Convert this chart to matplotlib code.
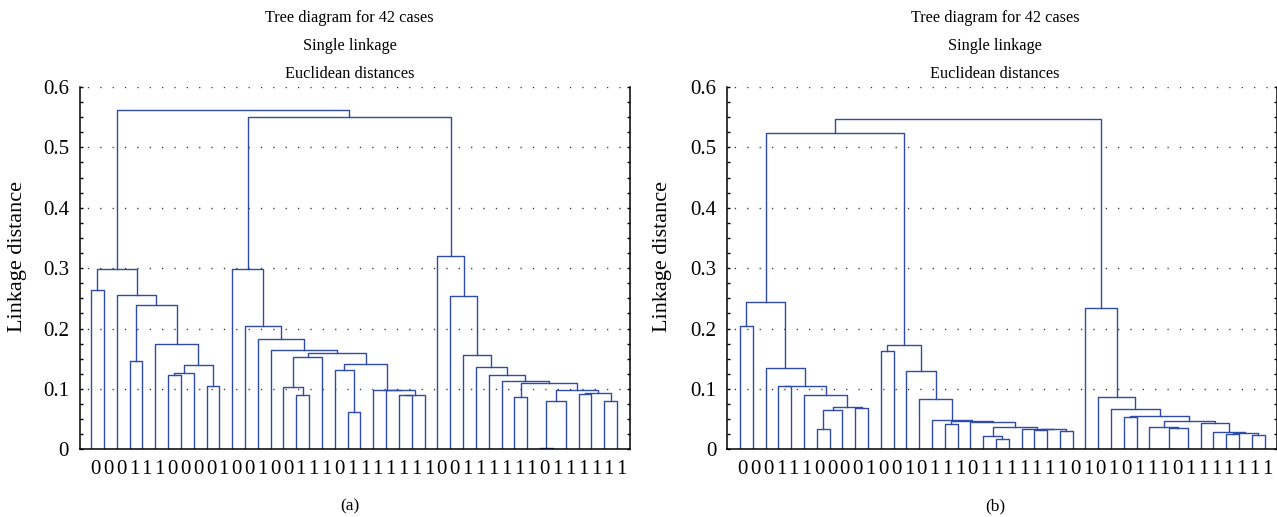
import matplotlib
matplotlib.use('Agg')
import matplotlib.pyplot as plt
from matplotlib.ticker import MultipleLocator
from matplotlib import transforms

# class label of each leaf, left to right
labels_a = "000111000010010011101111111001111110111111"
labels_b = "000111000010010111011111110101011101111111"

# trees: [linkage distance, left, right], leaves are leaf positions
a_left = [0.299, [0.263, 0, 1],
          [0.256, 2, [0.2395, [0.147, 3, 4],
                      [0.174, 5, [0.140, [0.127, [0.123, 6, 7], 8], [0.105, 9, 10]]]]]]
a_mid = [0.298, 11, [0.205, 12, [0.182, 13, [0.1645, 14,
         [0.160, [0.153, [0.104, 15, [0.0905, 16, 17]], 18],
          [0.142, [0.131, 19, [0.062, 20, 21]],
           [0.098, 22, [0.0975, 23, [0.0905, [0.0905, 24, 25], 26]]]]]]]]]
a_right = [0.320, 27, [0.254, 28, [0.156, 29, [0.136, 30, [0.1225, 31, [0.1126, 32,
           [0.110, [0.087, 33, 34],
            [0.098, [0.0795, [0.002, 35, 36], 37],
             [0.0938, [0.0916, 38, 39], [0.0795, 40, 41]]]]]]]]]]
tree_a = [0.562, a_left, [0.551, a_mid, a_right]]

b_left = [0.244, [0.204, 0, 1],
          [0.1347, 2, [0.105, [0.1045, 3, 4],
                       [0.0905, 5, [0.0695, [0.065, [0.033, 6, 7], 8], [0.069, 9, 10]]]]]]
b_mid = [0.172, [0.162, 11, 12], [0.129, 13, [0.084, 14, [0.0485, 15,
         [0.0474, [0.0424, 16, 17],
          [0.0457, 18, [0.0364, [0.022, 19, [0.0176, 20, 21]],
                        [0.033, 22, [0.0328, [0.0325, 23, 24], [0.031, 25, 26]]]]]]]]]]
b_right = [0.234, 27, [0.0865, 28, [0.0662, 29, [0.0557, [0.0535, 30, 31],
           [0.0474, [0.0364, 32, [0.0353, [0.001, 33, 34], 35]],
            [0.0441, 36, [0.0292, 37, [0.0264, [0.0248, 38, 39], [0.0237, 40, 41]]]]]]]]]
tree_b = [0.5475, [0.524, b_left, b_mid], b_right]

title_lines = ["Tree diagram for 42 cases", "Single linkage", "Euclidean distances"]

LINE = '#2F4BAA'
W, H = 1277, 517
plt.rcParams['font.family'] = ['Liberation Serif', 'DejaVu Serif']


def draw_node(ax, node):
    if isinstance(node, int):
        return node, 0.0
    h, left, right = node
    xl, hl = draw_node(ax, left)
    xr, hr = draw_node(ax, right)
    ax.plot([xl, xl, xr, xr], [hl, h, h, hr], color=LINE, lw=1.0)
    return (xl + xr) / 2, h


fig = plt.figure(figsize=(W / 100, H / 100), dpi=100)

panels = [
    # left px, xlim, tree, labels, label offset, title x, ylabel x, caption
    (80, (-0.86, 41.97), tree_a, labels_a, 0.35, 349.5, 18, "(a)"),
    (727.3, (-0.99, 41.95), tree_b, labels_b, 0.2, 995, 663, "(b)"),
]
for left, xlim, tree, labels, off, tx, lx, cap in panels:
    ax = fig.add_axes([left / W, (H - 449.3) / H, 549.5 / W, (449.3 - 87) / H])
    draw_node(ax, tree)
    ax.set_xlim(*xlim)
    ax.set_ylim(0, 0.6)
    for g in [0.1, 0.2, 0.3, 0.4, 0.5, 0.6]:
        ax.axhline(g, color='#333333', lw=1.0, linestyle=(3.6, (0.9, 8.0)), zorder=0)
    ax.spines['top'].set_visible(False)
    for s in ['left', 'right', 'bottom']:
        ax.spines[s].set_linewidth(1.1)
    ax.set_xticks([])
    ax.yaxis.set_minor_locator(MultipleLocator(0.025))
    ax.set_yticks([0, 0.1, 0.2, 0.3, 0.4, 0.5, 0.6])
    ax.set_yticklabels(['0', '0.1', '0.2', '0.3', '0.4', '0.5', '0.6'])
    ax.tick_params(axis='y', which='both', direction='in', left=True, right=True,
                   length=2.5, width=1.0, labelsize=15, pad=8)
    tr = transforms.blended_transform_factory(ax.transData, fig.transFigure)
    for i, lab in enumerate(labels):
        ax.text(i + off, 1 - 474 / H, lab, transform=tr, ha='center', va='baseline',
                fontsize=15)
    for k, line in enumerate(title_lines):
        fig.text(tx / W, 1 - (22.5 + 27.5 * k) / H, line, ha='center', va='baseline',
                 fontsize=11.7)
    fig.text(lx / W, 1 - 256 / H, "Linkage distance", rotation=90, ha='center',
             va='center', fontsize=16)
    fig.text(tx / W, 1 - 510 / H, cap, ha='center', va='baseline', fontsize=12.5)

fig.savefig('out.png', dpi=100)
